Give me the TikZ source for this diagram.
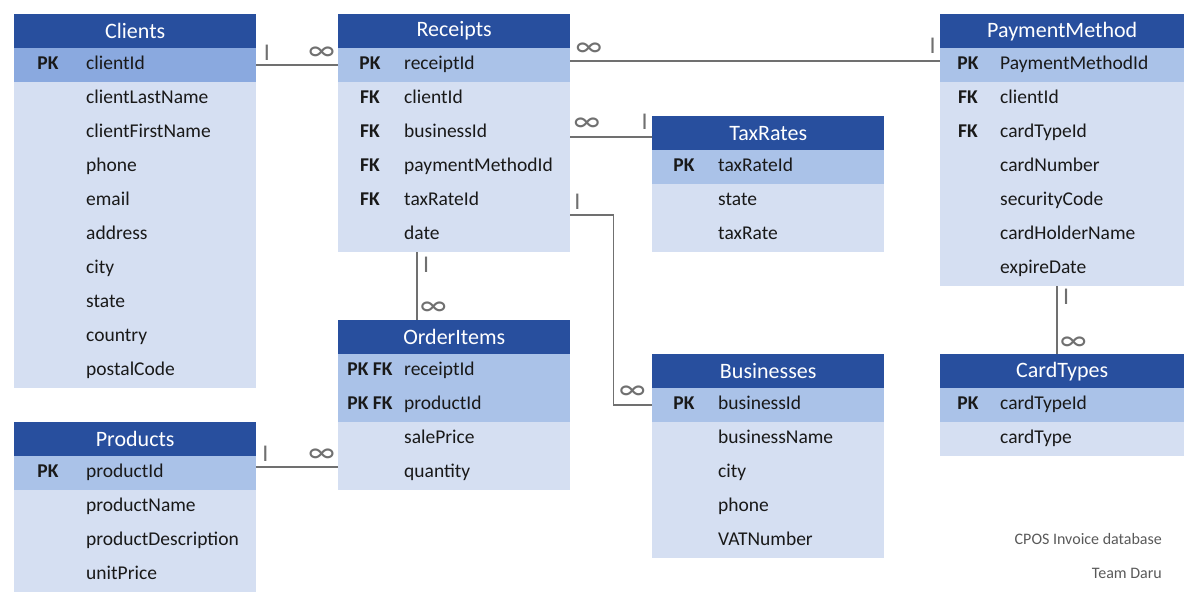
\documentclass[tikz,border=0pt]{standalone}
\usepackage{fontspec}
\setmainfont{Carlito}
\usetikzlibrary{positioning}
\definecolor{hdblue}{HTML}{284F9E}
\definecolor{pkdark}{HTML}{8AA9DF}
\definecolor{pkblue}{HTML}{AAC2E8}
\definecolor{rowblue}{HTML}{D5DFF2}
\definecolor{linkgray}{HTML}{707070}
\definecolor{notegray}{HTML}{595959}

\begin{document}
\begin{tikzpicture}[x=1pt,y=-1pt,
  head/.style={fill=hdblue,text=white,minimum height=34pt,inner sep=0pt,
    anchor=north west,font=\fontsize{22}{22}\selectfont},
  row/.style={minimum height=34pt,inner sep=0pt,anchor=north west},
  keytxt/.style={inner sep=0pt,yshift=-1.5pt,text=black!90,font=\fontsize{19.5}{20}\selectfont\bfseries,
    text height=1.5ex,text depth=.25ex},
  fieldtxt/.style={inner sep=0pt,yshift=-1.5pt,anchor=west,text=black!90,font=\fontsize{19.5}{20}\selectfont,
    text height=1.5ex,text depth=.25ex},
  link/.style={draw=linkgray,line width=1.6pt},
  one/.style={inner sep=0pt,text=linkgray,font=\fontsize{24}{24}\selectfont},
  many/.style={inner sep=0pt,text=linkgray,font=\fontsize{31}{31}\selectfont},
  note/.style={inner sep=0pt,anchor=east,text=notegray,font=\fontsize{16}{16}\selectfont}]
\useasboundingbox (0,0) rectangle (1196,602);

%%%%%%%%%%%%%%%%% tables %%%%%%%%%%%%%%%%%%%
%  name/x/y/width/key offset/field offset/{key/field/fill}
\foreach \tname/\x/\y/\twidth/\ko/\fo/\rows in {
  Clients/14/14/242/34/72/{PK/clientId/pkdark,/clientLastName/rowblue,/clientFirstName/rowblue,
    /phone/rowblue,/email/rowblue,/address/rowblue,/city/rowblue,/state/rowblue,
    /country/rowblue,/postalCode/rowblue},
  Receipts/338/14/232/32/66/{PK/receiptId/pkblue,FK/clientId/rowblue,FK/businessId/rowblue,
    FK/paymentMethodId/rowblue,FK/taxRateId/rowblue,/date/rowblue},
  PaymentMethod/940/14/244/28/60/{PK/PaymentMethodId/pkblue,FK/clientId/rowblue,
    FK/cardTypeId/rowblue,/cardNumber/rowblue,/securityCode/rowblue,
    /cardHolderName/rowblue,/expireDate/rowblue},
  TaxRates/652/116/232/32/66/{PK/taxRateId/pkblue,/state/rowblue,/taxRate/rowblue},
  OrderItems/338/320/232/32/66/{PK FK/receiptId/pkblue,PK FK/productId/pkblue,
    /salePrice/rowblue,/quantity/rowblue},
  Businesses/652/354/232/32/66/{PK/businessId/pkblue,/businessName/rowblue,/city/rowblue,
    /phone/rowblue,/VATNumber/rowblue},
  CardTypes/940/354/244/28/60/{PK/cardTypeId/pkblue,/cardType/rowblue},
  Products/14/422/242/34/72/{PK/productId/pkblue,/productName/rowblue,
    /productDescription/rowblue,/unitPrice/rowblue}}
{\node[head,minimum width=\twidth pt] (\tname) at (\x,\y) {\tname};
 \foreach \key/\field/\shade [count=\n from 0] in \rows
 {\node[row,fill=\shade,minimum width=\twidth pt] (\tname-\n) at (\x,\y+34+34*\n) {};
  \node[keytxt] at ([xshift=\ko pt]\tname-\n.west) {\key};
  \node[fieldtxt] at ([xshift=\fo pt]\tname-\n.west) {\field};}}

%%%%%%%%%%%%%%%%% edges %%%%%%%%%%%%%%%%%%%%%%%
% I = one side, infinity = many side
\draw[link] (Clients-0.east) -- node[one,pos=.13,above=4pt]{I}
  node[many,pos=.8,above=4pt]{∞} (Receipts-0.west);
\draw[link] ([yshift=4pt]Receipts-0.east) -- node[many,pos=.05,above=4pt]{∞}
  node[one,pos=.98,above=7pt]{I} ([yshift=4pt]PaymentMethod-0.west);
\draw[link] ([yshift=-4pt]Receipts-2.east) -- node[many,pos=.2,above=5pt]{∞}
  node[one,pos=.91,above=7pt]{I} ([yshift=-4pt]TaxRates.west);
\draw[link] ([yshift=-14pt]Receipts-4.east) -- node[one,pos=.16,above=5pt]{I} ++(43,0)
  |- node[many,pos=.745,above=5pt]{∞} (Businesses-0.west);
\draw[link] ([xshift=-37pt]Receipts-5.south) -- node[one,pos=.18,right=5pt]{I}
  node[many,pos=.84,right=2pt]{∞} ([xshift=-37pt]OrderItems.north);
\draw[link] ([xshift=-5pt]PaymentMethod-6.south) -- node[one,pos=.16,right=5pt]{I}
  node[many,pos=.85,right=2pt]{∞} ([xshift=-5pt]CardTypes.north);
\draw[link] ([yshift=6pt]Products-0.east) -- node[one,pos=.11,above=5pt]{I}
  node[many,pos=.8,above=4pt]{∞} ([yshift=6pt]OrderItems-3.west);

%%%%%%%%%%%%%%%%% notes %%%%%%%%%%%%%%%%%%%%%%%
\node[note] (dbname) at (1162,539) {CPOS Invoice database};
\node[note] (team) at (1162,573) {Team Daru};
\end{tikzpicture}
\end{document}
